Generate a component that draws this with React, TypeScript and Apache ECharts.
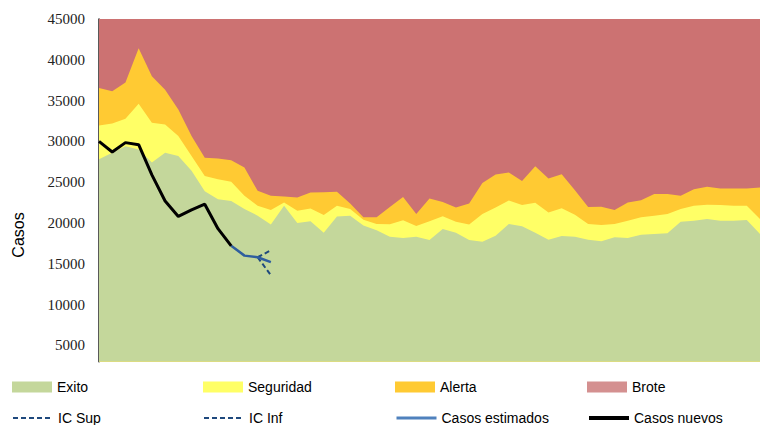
import React, { useEffect, useRef } from 'react';
import * as echarts from 'echarts';

const weeks = [
  '1', '2', '3', '4', '5', '6', '7', '8', '9', '10',
  '11', '12', '13', '14', '15', '16', '17', '18', '19', '20',
  '21', '22', '23', '24', '25', '26', '27', '28', '29', '30',
  '31', '32', '33', '34', '35', '36', '37', '38', '39', '40',
  '41', '42', '43', '44', '45', '46', '47', '48', '49', '50', '51',
];

// upper limit of each zone of the epidemic channel
const exitoTop = [
  27800, 28600, 29400, 29000, 27400, 28600, 28200, 26400, 23900, 22900,
  22700, 21700, 20900, 19800, 22100, 20000, 20200, 18800, 20800, 20900,
  19700, 19100, 18300, 18150, 18300, 17900, 19270, 18800, 17900, 17700,
  18450, 19880, 19600, 18800, 17960, 18400, 18300, 17950, 17770, 18250,
  18170, 18570, 18660, 18740, 20160, 20280, 20490, 20280, 20280, 20370, 18660,
];
const seguridadTop = [
  31950, 32200, 32770, 34600, 32280, 32070, 30650, 28210, 25770, 25370,
  25040, 23330, 22110, 21600, 22520, 21500, 21790, 20980, 22110, 21710,
  20400, 19880, 19850, 20350, 19640, 20200, 20820, 20160, 19820, 21100,
  21910, 22760, 22200, 22480, 21300, 21810, 21000, 19880, 19760, 19880,
  20280, 20700, 20890, 21100, 21710, 22110, 22230, 22190, 22110, 22110, 20490,
];
const alertaTop = [
  36550, 36140, 37230, 41420, 37970, 36340, 33900, 30650, 28010, 27890,
  27680, 26790, 23940, 23330, 23250, 23130, 23740, 23780, 23820, 22400,
  20700, 20700, 21950, 23200, 21100, 23000, 22560, 21910, 22380, 24900,
  25950, 26200, 25160, 26950, 25450, 25980, 24000, 21950, 21990, 21590,
  22520, 22800, 23540, 23540, 23330, 24150, 24430, 24230, 24230, 24230, 24350,
];
const broteTop = [
  45000, 45000, 45000, 45000, 45000, 45000, 45000, 45000, 45000, 45000,
  45000, 45000, 45000, 45000, 45000, 45000, 45000, 45000, 45000, 45000,
  45000, 45000, 45000, 45000, 45000, 45000, 45000, 45000, 45000, 45000,
  45000, 45000, 45000, 45000, 45000, 45000, 45000, 45000, 45000, 45000,
  45000, 45000, 45000, 45000, 45000, 45000, 45000, 45000, 45000, 45000, 45000,
];

const casosNuevos = [30000, 28700, 29850, 29600, 25900, 22700, 20800, 21600, 22300, 19300, 17200];
const casosEstimados = [null, null, null, null, null, null, null, null, null, null, 17200, 16000, 15800, 15200];
const icSup = [null, null, null, null, null, null, null, null, null, null, null, null, 15800, 16650];
const icInf = [null, null, null, null, null, null, null, null, null, null, null, null, 15800, 13600];

const yTicks = [5000, 10000, 15000, 20000, 25000, 30000, 35000, 40000, 45000];

const C_EXITO = '#C4D79B';
const C_SEG = '#FFFF66';
const C_ALERTA = '#FFCA33';
const C_BROTE = '#CC7272';
const C_IC = '#1F497D';
const C_EST = '#2F5E9E';

const SANS = '"Liberation Sans", Arial, sans-serif';
const SERIF = '"Liberation Serif", "Times New Roman", serif';

export default function App() {
  const ref = useRef<HTMLDivElement>(null);

  useEffect(() => {
    const chart = echarts.init(ref.current!, null, { renderer: 'svg' });

    const area = (name: string, data: number[], color: string) => ({
      name,
      type: 'line',
      data,
      symbol: 'none',
      silent: true,
      lineStyle: { width: 0, color },
      itemStyle: { color },
      areaStyle: { color, opacity: 1, origin: 'start' },
      emphasis: { disabled: true },
      z: 1,
    });

    const hiddenSymbol = { color: 'transparent', borderWidth: 0, opacity: 0 };

    const legendItem = (name: string, left: number, top: number, extra: any = {}) => ({
      data: [{ name, ...extra }],
      left,
      top,
      itemWidth: 40,
      itemHeight: 11,
      padding: 0,
      selectedMode: false,
      textStyle: { fontFamily: SANS, fontSize: 14, color: '#000' },
    });

    chart.setOption({
      animation: false,
      backgroundColor: '#fff',
      grid: { left: 99, top: 19, width: 661, height: 342.7, containLabel: false },
      xAxis: {
        type: 'category',
        data: weeks,
        boundaryGap: false,
        axisLine: { show: false },
        axisTick: { show: false },
        axisLabel: { show: false },
        splitLine: { show: false },
      },
      yAxis: {
        type: 'value',
        min: 3000,
        max: 45000,
        axisLine: { show: true, lineStyle: { color: '#222', width: 1.5 } },
        axisTick: { show: true, inside: true, length: 4, customValues: yTicks, lineStyle: { color: '#444' } },
        axisLabel: {
          customValues: yTicks,
          margin: 14,
          fontFamily: SERIF,
          fontSize: 15,
          color: '#222',
          formatter: (v: number) => String(v),
        },
        splitLine: { show: false },
      },
      legend: [
        legendItem('Exito', 12, 380, { icon: 'rect' }),
        legendItem('Seguridad', 203, 380, { icon: 'rect' }),
        legendItem('Alerta', 395, 380, { icon: 'rect' }),
        legendItem('Brote', 587, 380, { icon: 'rect', itemStyle: { color: '#D49090' } }),
        legendItem('IC Sup', 12, 411, { itemStyle: hiddenSymbol }),
        legendItem('IC Inf', 203, 411, { itemStyle: hiddenSymbol }),
        legendItem('Casos estimados', 395, 411, { itemStyle: hiddenSymbol, lineStyle: { color: '#4F81BD', width: 3 } }),
        legendItem('Casos nuevos', 587, 411, { itemStyle: hiddenSymbol, lineStyle: { color: '#000', width: 4 } }),
      ],
      graphic: [
        {
          type: 'text',
          x: 18,
          y: 235,
          rotation: Math.PI / 2,
          style: {
            text: 'Casos',
            font: `16px ${SANS}`,
            fill: '#000',
            align: 'center',
            verticalAlign: 'middle',
          },
        },
      ],
      series: [
        area('Brote', broteTop, C_BROTE),
        area('Alerta', alertaTop, C_ALERTA),
        area('Seguridad', seguridadTop, C_SEG),
        area('Exito', exitoTop, C_EXITO),
        {
          name: 'IC Sup',
          type: 'line',
          data: icSup,
          symbol: 'none',
          z: 3,
          lineStyle: { color: C_IC, width: 2, type: [5, 3] },
          itemStyle: { color: C_IC },
        },
        {
          name: 'IC Inf',
          type: 'line',
          data: icInf,
          symbol: 'none',
          z: 3,
          lineStyle: { color: C_IC, width: 2, type: [5, 3] },
          itemStyle: { color: C_IC },
        },
        {
          name: 'Casos estimados',
          type: 'line',
          data: casosEstimados,
          symbol: 'none',
          z: 4,
          lineStyle: { color: C_EST, width: 2.5 },
          itemStyle: { color: C_EST },
        },
        {
          name: 'Casos nuevos',
          type: 'line',
          data: casosNuevos,
          symbol: 'none',
          z: 5,
          lineStyle: { color: '#000', width: 3 },
          itemStyle: { color: '#000' },
        },
      ],
    });

    return () => chart.dispose();
  }, []);

  return (
    <div
      ref={ref}
      style={{ position: 'fixed', left: 0, top: 0, width: 760, height: 425 }}
    />
  );
}
